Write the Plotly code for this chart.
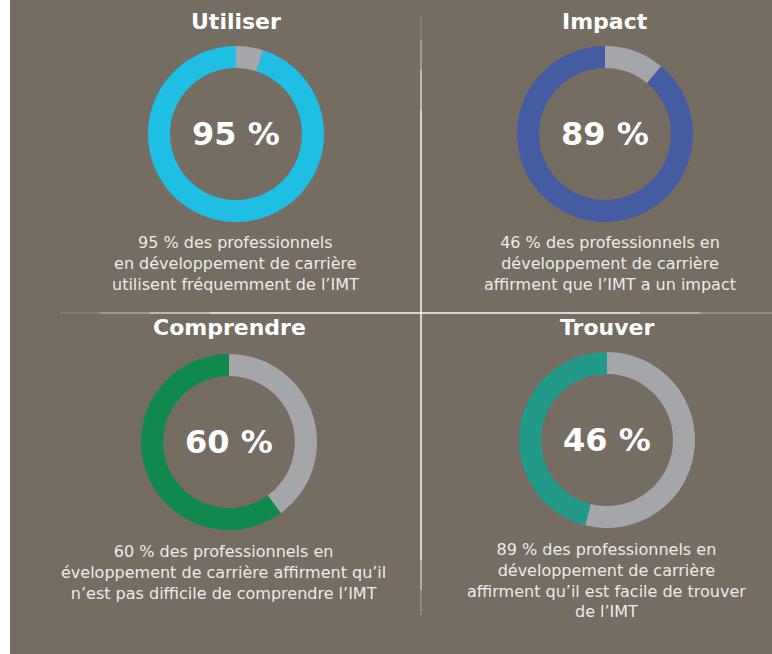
import plotly.graph_objects as go

W, H = 772, 654

titles = ["Utiliser", "Impact", "Comprendre", "Trouver"]
percents = [95, 89, 60, 46]
remainders = [5, 11, 40, 54]
colors = ["#1fbee3", "#445ca2", "#0f8a4c", "#229a89"]
rest_color = "#a5a6aa"
descriptions = [
    "95 % des professionnels<br>en développement de carrière<br>utilisent fréquemment de l’IMT",
    "46 % des professionnels en<br>développement de carrière<br>affirment que l’IMT a un impact",
    "60 % des professionnels en<br>éveloppement de carrière affirment qu’il<br>n’est pas difficile de comprendre l’IMT",
    "89 % des professionnels en<br>développement de carrière<br>affirment qu’il est facile de trouver<br>de l’IMT",
]

# layout positions in pixels (top-left origin)
centers = [(236, 134), (605, 134), (229, 442), (607, 440)]
radius = 88
title_y = [22, 22, 328, 328]
desc_top = [231, 231, 540, 538]
desc_x = [236, 610, 224, 606]

BG = "#756c62"
FONT = "DejaVu Sans"

fig = go.Figure()

def px(x):
    return x / W

def py(y):
    return 1 - y / H

for i in range(4):
    cx, cy = centers[i]
    fig.add_trace(go.Pie(
        values=[remainders[i], percents[i]],
        labels=["reste", titles[i]],
        marker=dict(colors=[rest_color, colors[i]], line=dict(width=0)),
        hole=0.75,
        sort=False,
        direction="clockwise",
        rotation=0,
        textinfo="none",
        hoverinfo="label+value",
        showlegend=False,
        domain=dict(x=[px(cx - radius), px(cx + radius)],
                    y=[py(cy + radius), py(cy - radius)]),
    ))
    fig.add_annotation(x=px(cx), y=py(cy), xref="paper", yref="paper",
                       text=f"<b>{percents[i]} %</b>", showarrow=False,
                       font=dict(family=FONT, size=32, color="white"),
                       xanchor="center", yanchor="middle")
    fig.add_annotation(x=px(cx), y=py(title_y[i]), xref="paper", yref="paper",
                       text=f"<b>{titles[i]}</b>", showarrow=False,
                       font=dict(family=FONT, size=22, color="white"),
                       xanchor="center", yanchor="middle")
    fig.add_annotation(x=px(desc_x[i]), y=py(desc_top[i]), xref="paper", yref="paper",
                       text=descriptions[i], showarrow=False, align="center",
                       font=dict(family=FONT, size=16, color="#ecebe7"),
                       xanchor="center", yanchor="top")

shapes = [dict(type="rect", xref="paper", yref="paper", x0=px(10), x1=1, y0=0, y1=1,
               fillcolor=BG, line=dict(width=0), layer="below")]

# vertical divider with faded ends
vsegs = [(15, 40, 0.15), (40, 70, 0.4), (70, 110, 0.7), (110, 560, 0.95),
         (560, 590, 0.6), (590, 615, 0.25)]
for y0, y1, op in vsegs:
    shapes.append(dict(type="line", xref="paper", yref="paper", x0=px(421), x1=px(421),
                       y0=py(y0), y1=py(y1), line=dict(color="white", width=1.5),
                       opacity=op, layer="below"))
# horizontal divider with faded ends
hsegs = [(60, 100, 0.15), (100, 150, 0.4), (150, 210, 0.7), (210, 640, 0.95),
         (640, 700, 0.6), (700, 772, 0.3)]
for x0, x1, op in hsegs:
    shapes.append(dict(type="line", xref="paper", yref="paper", x0=px(x0), x1=px(x1),
                       y0=py(313), y1=py(313), line=dict(color="white", width=1.5),
                       opacity=op, layer="below"))

fig.update_layout(
    width=W, height=H,
    margin=dict(l=0, r=0, t=0, b=0),
    paper_bgcolor="white",
    plot_bgcolor="white",
    shapes=shapes,
    showlegend=False,
)

fig.write_html("out.html")
